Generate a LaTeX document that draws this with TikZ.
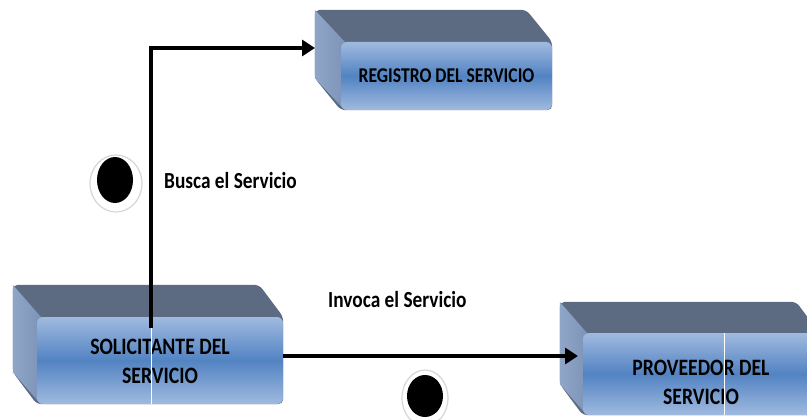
\documentclass[tikz,border=0pt]{standalone}
\usepackage{fontspec}
\newfontfamily\calfont[FakeStretch=0.84]{Carlito}
\usetikzlibrary{arrows.meta,shapes.geometric,backgrounds,calc}
\definecolor{slate}{HTML}{5C6B82}
\definecolor{sideblue}{HTML}{7D94B8}
\definecolor{sidelight}{HTML}{8FA6C8}
\definecolor{facelight}{HTML}{A0BADF}
\definecolor{facemid}{HTML}{5283C2}
\tikzset{
  face/.style={rectangle, rounded corners=6pt, top color=facelight, bottom color=facelight,
    middle color=facemid, inner sep=0pt, text=black, align=center,
    font=\calfont\bfseries\fontsize{21}{29}\selectfont},
  facetext/.style={inner sep=0pt, text=black, align=center,
    font=\calfont\bfseries\fontsize{23.5}{29}\selectfont},
  lbl/.style={inner sep=0pt, text=black, font=\calfont\bfseries\fontsize{23}{26}\selectfont},
  conn/.style={line width=4pt, -{Triangle[length=13pt,width=16pt]}},
  ring/.style={ellipse, fill=white, draw=black!16, line width=1.2pt, inner sep=0pt},
  dot/.style={ellipse, fill=black, inner sep=0pt},
  backface/.style={fill=slate, rounded corners=5pt},
  sideface/.style={left color=sidelight, right color=sideblue}
}
\newcommand\backbox[3]{%
  \path[backface] ($(#1.north west)+(-#2,-#3)$) -- ($(#1.north east)+(-#2,-#3)$)
     -- (#1.north east) -- (#1.south east) -- (#1.south west)
     -- ($(#1.south west)+(-#2,-#3)$) -- cycle;
  \path[sideface] ($(#1.north west)+(-#2,-#3)$) -- ($(#1.north west)+(4,0)$)
     -- ($(#1.south west)+(4,0)$) -- ($(#1.south west)+(-#2,-#3)$) -- cycle;
}
\begin{document}
\begin{tikzpicture}[x=1pt,y=-1pt]
\useasboundingbox (0,0) rectangle (807,420);
% front faces
\node[face, minimum width=211pt, minimum height=68pt] (reg) at (446.5,76) {REGISTRO DEL SERVICIO};
\node[face, minimum width=246pt, minimum height=87pt] (sol) at (160,360.5) {};
\node[facetext] (soltxt) at (160,361) {SOLICITANTE DEL\\SERVICIO};
\node[face, minimum width=236pt, minimum height=82pt] (prov) at (701,374) {};
\node[facetext] (provtxt) at (701,382) {PROVEEDOR DEL\\SERVICIO};
\begin{pgfonlayer}{background}
\backbox{reg}{26}{32}
\backbox{sol}{24}{32}
\backbox{prov}{23}{31}
\end{pgfonlayer}
% artifacts: thin white lines across faces
\draw[white, line width=0.8pt] ($(sol.north)+(-9,11)$) -- ($(sol.south)+(-9,0)$);
\draw[white, line width=0.8pt] ($(prov.north)+(23,0)$) -- ($(prov.south)+(23,0)$);
% connectors
\coordinate (sStart) at ($(sol.north)+(-9,11)$);
\coordinate (regIn) at (315,48);
\coordinate (hStart) at ($(sol.east)+(0,-4.5)$);
\coordinate (provIn) at (578,356);
\draw[conn] (sStart) |- (regIn);
\draw[conn] (hStart) -- (provIn);
% labels
\node[lbl, anchor=west] (busca) at (164,181) {Busca el Servicio};
\node[lbl, anchor=west] (invoca) at (328,300) {Invoca el Servicio};
% numbered dots
\node[ring, minimum width=52pt, minimum height=57pt] (r1) at (116,183.5) {};
\node[dot, minimum width=36pt, minimum height=46pt] (d1) at (115,180) {};
\node[ring, minimum width=46pt, minimum height=56pt] (r2) at (425,398) {};
\node[dot, minimum width=36pt, minimum height=42pt] (d2) at (425,396) {};
\end{tikzpicture}
\end{document}
